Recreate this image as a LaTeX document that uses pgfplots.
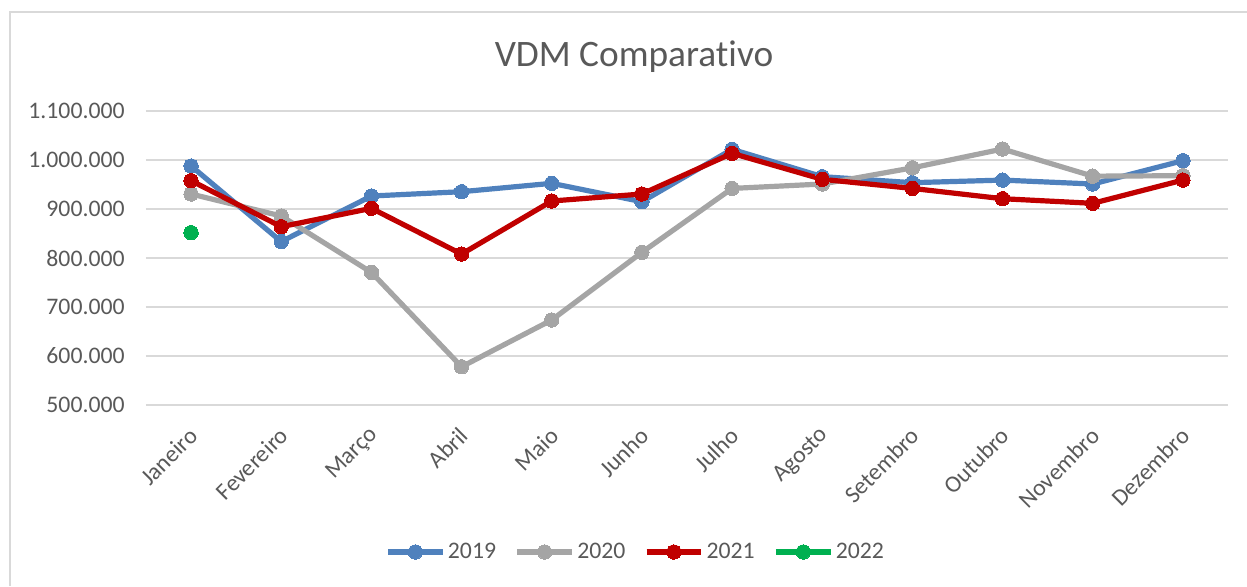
\documentclass[border=0pt]{standalone}
\usepackage{pgfplots}
\pgfplotsset{compat=1.18}
\usepackage{fontspec}
\setmainfont{Carlito}[Ligatures=NoCommon]
\definecolor{c19}{RGB}{79,129,189}
\definecolor{c20}{RGB}{165,165,165}
\definecolor{c21}{RGB}{192,0,0}
\definecolor{c22}{RGB}{0,176,80}
\definecolor{gridc}{RGB}{217,217,217}
\definecolor{txt}{RGB}{89,89,89}
\begin{document}
\begin{tikzpicture}
\useasboundingbox (0,0) rectangle (935.25pt,439.5pt);
\draw[gridc, line width=1.5pt] (7.5pt,0pt) -- (7.5pt,430.5pt) -- (935.25pt,430.5pt);
\node[txt, font=\fontsize{28pt}{30pt}\selectfont] at (475.5pt,396.75pt) {VDM Comparativo};
\begin{axis}[
  at={(109.5pt,135.75pt)}, anchor=south west,
  scale only axis, width=811.5pt, height=220.5pt,
  xmin=-0.5, xmax=11.5, ymin=500000, ymax=1100000,
  ytick={500000,600000,700000,800000,900000,1000000,1100000},
  xtick={0,...,11},
  xticklabels={Janeiro,Fevereiro,Março,Abril,Maio,Junho,Julho,Agosto,Setembro,Outubro,Novembro,Dezembro},
  axis line style={draw=none},
  major tick length=0pt,
  ymajorgrids, xmajorgrids=false, grid style={draw=gridc, line width=1.2pt},
  /pgf/number format/.cd, fixed, precision=0, 1000 sep={.}, assume math mode=true,
  /pgfplots/.cd,
  scaled y ticks=false,
  tick label style={txt, font=\fontsize{17.8pt}{20pt}\selectfont},
  yticklabel style={anchor=east, xshift=-12.5pt},
  xticklabel style={inner sep=0pt, yshift=-20pt, xshift=2pt, rotate=45, anchor=east},
  legend columns=4,
  legend style={at={(0.4529,-0.5)}, anchor=center, draw=none, fill=none,
    font=\fontsize{17.8pt}{20pt}\selectfont, text=txt,
    /tikz/every even column/.append style={column sep=12pt}},
  legend image code/.code={\draw[mark repeat=2,mark phase=2,#1] plot coordinates {(0pt,0pt)(20.5pt,0pt)(41pt,0pt)};},
  every axis plot/.append style={line width=3.9pt, line join=round, mark=*, mark size=5.4pt},
  clip=false,
]
\addplot[c19, mark options={fill=c19, draw=c19, solid, line width=0pt}] coordinates {
(0,987800)(1,833500)(2,926500)(3,935300)(4,952400)(5,914900)(6,1021800)(7,966000)(8,953700)(9,959000)(10,951000)(11,998600)};
\addlegendentry{2019}
\addplot[c20, mark options={fill=c20, draw=c20, solid, line width=0pt}] coordinates {
(0,930600)(1,885700)(2,770700)(3,578000)(4,673500)(5,811600)(6,942000)(7,951000)(8,984000)(9,1022400)(10,967000)(11,968000)};
\addlegendentry{2020}
\addplot[c21, mark options={fill=c21, draw=c21, solid, line width=0pt}] coordinates {
(0,957800)(1,863900)(2,901400)(3,808000)(4,916300)(5,930600)(6,1013600)(7,960600)(8,942000)(9,921000)(10,911600)(11,959000)};
\addlegendentry{2021}
\addplot[c22, mark options={fill=c22, draw=c22, solid, line width=0pt}] coordinates {
(0,851700)};
\addlegendentry{2022}
\end{axis}
\end{tikzpicture}
\end{document}
